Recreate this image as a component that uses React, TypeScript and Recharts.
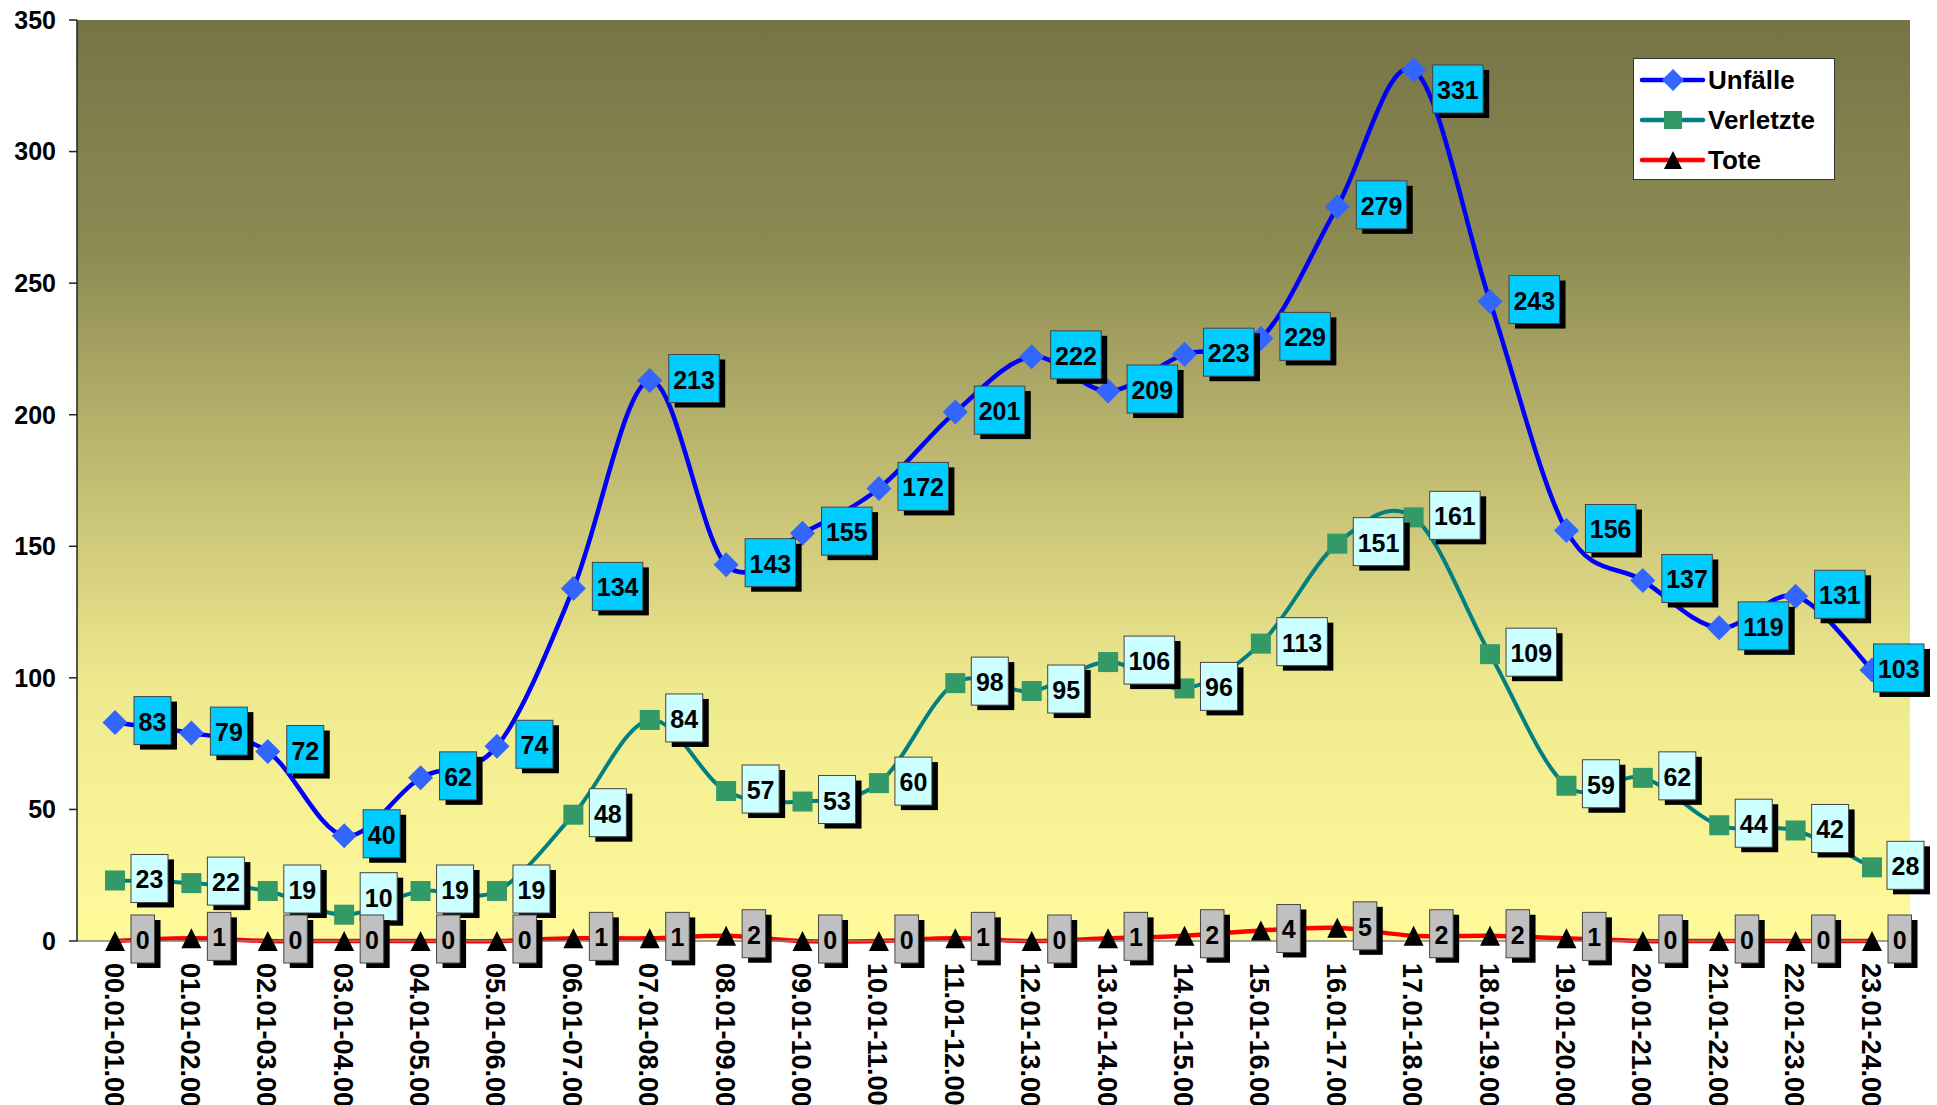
import React from 'react';
import { LineChart, Line, XAxis, YAxis, CartesianGrid, LabelList } from 'recharts';

const hours = [
  '00.01-01.00', '01.01-02.00', '02.01-03.00', '03.01-04.00', '04.01-05.00', '05.01-06.00',
  '06.01-07.00', '07.01-08.00', '08.01-09.00', '09.01-10.00', '10.01-11.00', '11.01-12.00',
  '12.01-13.00', '13.01-14.00', '14.01-15.00', '15.01-16.00', '16.01-17.00', '17.01-18.00',
  '18.01-19.00', '19.01-20.00', '20.01-21.00', '21.01-22.00', '22.01-23.00', '23.01-24.00',
];
const unfaelle = [83, 79, 72, 40, 62, 74, 134, 213, 143, 155, 172, 201, 222, 209, 223, 229, 279, 331, 243, 156, 137, 119, 131, 103];
const verletzte = [23, 22, 19, 10, 19, 19, 48, 84, 57, 53, 60, 98, 95, 106, 96, 113, 151, 161, 109, 59, 62, 44, 42, 28];
const tote = [0, 1, 0, 0, 0, 0, 1, 1, 2, 0, 0, 1, 0, 1, 2, 4, 5, 2, 2, 1, 0, 0, 0, 0];
const yTicks = [0, 50, 100, 150, 200, 250, 300, 350];

const data = hours.map((h, i) => ({ h, unfaelle: unfaelle[i], verletzte: verletzte[i], tote: tote[i] }));

const FONT = '"Liberation Sans", Arial, Helvetica, sans-serif';

// excel-like smoothing (cardinal, tension 0)
const excelSmooth: any = (context: any) => {
  let pts: number[][] = [];
  return {
    areaStart() {},
    areaEnd() {},
    lineStart() { pts = []; },
    lineEnd() {
      const n = pts.length;
      if (!n) return;
      context.moveTo(pts[0][0], pts[0][1]);
      for (let i = 0; i < n - 1; i++) {
        const p0 = pts[Math.max(i - 1, 0)];
        const p1 = pts[i];
        const p2 = pts[i + 1];
        const p3 = pts[Math.min(i + 2, n - 1)];
        context.bezierCurveTo(
          p1[0] + (p2[0] - p0[0]) / 6, p1[1] + (p2[1] - p0[1]) / 6,
          p2[0] - (p3[0] - p1[0]) / 6, p2[1] - (p3[1] - p1[1]) / 6,
          p2[0], p2[1]
        );
      }
    },
    point(x: number, y: number) { pts.push([+x, +y]); },
  };
};

const Diamond = ({ cx, cy, r = 12.5 }: any) => (
  <path d={`M${cx},${cy - r}L${cx + r},${cy}L${cx},${cy + r}L${cx - r},${cy}Z`} fill="#3366FF" />
);
const Square = ({ cx, cy, s = 20 }: any) => (
  <rect x={cx - s / 2} y={cy - s / 2} width={s} height={s} fill="#339966" />
);
const Triangle = ({ cx, cy, s = 20 }: any) => (
  <path d={`M${cx},${cy - s / 2}L${cx + s / 2},${cy + s / 2}L${cx - s / 2},${cy + s / 2}Z`} fill="#000" />
);

// a few labels were nudged in the original to avoid overlaps
const boxLabel = (fill: string, dx: number, nudge: Record<number, number> = {}) => (props: any) => {
  const { x, y, value, index } = props;
  const s = String(value);
  const w = s.length * 13.5 + 10;
  const h = 48;
  const left = Math.min(x + dx, 1924 - w);
  const top = y - 2 - h / 2 + (nudge[index] || 0);
  return (
    <g>
      <rect x={left + 6} y={top + 5} width={w} height={h} fill="#000" />
      <rect x={left} y={top} width={w} height={h} fill={fill} stroke="#444" strokeWidth={1} />
      <text x={left + w / 2} y={top + h / 2 + 1} textAnchor="middle" dominantBaseline="central"
        fontSize={25} fontWeight="bold" fontFamily={FONT} fill="#000">{s}</text>
    </g>
  );
};

const XTick = (props: any) => {
  const { x, y, payload } = props;
  return (
    <text transform={`translate(${x - 1.5},${y + 22}) rotate(90)`} textAnchor="start" dominantBaseline="central"
      fontSize={27} fontWeight="bold" fontFamily={FONT} fill="#000">{payload.value}</text>
  );
};

const legendItems = [
  { name: 'Unfälle', color: '#0000FF', marker: 'diamond' },
  { name: 'Verletzte', color: '#008080', marker: 'square' },
  { name: 'Tote', color: '#FF0000', marker: 'triangle' },
];

const ChartLegend = () => (
  <div style={{ position: 'absolute', left: 1633, top: 58, width: 202, height: 122, background: '#fff', border: '1.5px solid #333', boxSizing: 'border-box', paddingTop: 1 }}>
    {legendItems.map((it) => (
      <div key={it.name} style={{ display: 'flex', alignItems: 'center', height: 40 }}>
        <svg width={74} height={40} style={{ display: 'block' }}>
          <line x1={8} x2={69} y1={20} y2={20} stroke={it.color} strokeWidth={4.5} strokeLinecap="round" />
          {it.marker === 'diamond' && <Diamond cx={39} cy={20} r={11} />}
          {it.marker === 'square' && <Square cx={39} cy={20} s={18} />}
          {it.marker === 'triangle' && <Triangle cx={39} cy={20} s={18} />}
        </svg>
        <span style={{ fontFamily: FONT, fontWeight: 'bold', fontSize: 26, color: '#000', lineHeight: '40px' }}>{it.name}</span>
      </div>
    ))}
  </div>
);

export default function App() {
  return (
    <div style={{ position: 'absolute', left: 0, top: 0, width: 1937, height: 1105, background: '#fff', overflow: 'hidden' }}>
      <LineChart width={1937} height={1105} data={data} margin={{ top: 20, right: 27, bottom: 0, left: 0 }}>
        <defs>
          <linearGradient id="bg" x1="0" y1="0" x2="0" y2="1">
            <stop offset="0%" stopColor="#767447" />
            <stop offset="25%" stopColor="#8D8B53" />
            <stop offset="50%" stopColor="#C3BD73" />
            <stop offset="72%" stopColor="#EEE98E" />
            <stop offset="100%" stopColor="#FFFB9B" />
          </linearGradient>
        </defs>
        <CartesianGrid horizontal={false} vertical={false} fill="url(#bg)" fillOpacity={1} />
        <XAxis dataKey="h" interval={0} padding={{ left: 38, right: 38 }} height={164}
          tick={<XTick />} tickLine={false} tickSize={0} tickMargin={0}
          axisLine={{ stroke: '#808080', strokeWidth: 1.5 }} />
        <YAxis domain={[0, 350]} ticks={yTicks} width={77} tickSize={8} tickMargin={13}
          axisLine={{ stroke: '#222', strokeWidth: 1.5 }} tickLine={{ stroke: '#222', strokeWidth: 1.5 }}
          tick={{ fontSize: 25, fontWeight: 'bold', fontFamily: FONT, fill: '#000' }} />

        <Line dataKey="unfaelle" name="Unfälle" type={excelSmooth} stroke="#0000FF" strokeWidth={4.5}
          dot={(p: any) => <Diamond key={`d${p.index}`} cx={p.cx} cy={p.cy} />} activeDot={false} isAnimationActive={false} />
        <Line dataKey="verletzte" name="Verletzte" type={excelSmooth} stroke="#008080" strokeWidth={4}
          dot={(p: any) => <Square key={`s${p.index}`} cx={p.cx} cy={p.cy} />} activeDot={false} isAnimationActive={false} />
        <Line dataKey="tote" name="Tote" type={excelSmooth} stroke="#FF0000" strokeWidth={4.5}
          dot={(p: any) => <Triangle key={`t${p.index}`} cx={p.cx} cy={p.cy} />} activeDot={false} isAnimationActive={false} />

        <Line dataKey="unfaelle" stroke="none" dot={false} activeDot={false} legendType="none" isAnimationActive={false}>
          <LabelList dataKey="unfaelle" content={boxLabel('#00CCFF', 19, { 17: 21 })} />
        </Line>
        <Line dataKey="verletzte" stroke="none" dot={false} activeDot={false} legendType="none" isAnimationActive={false}>
          <LabelList dataKey="verletzte" content={boxLabel('#CCFFFF', 16, { 3: -16 })} />
        </Line>
        <Line dataKey="tote" stroke="none" dot={false} activeDot={false} legendType="none" isAnimationActive={false}>
          <LabelList dataKey="tote" content={boxLabel('#C0C0C0', 16)} />
        </Line>
      </LineChart>
      <ChartLegend />
    </div>
  );
}
